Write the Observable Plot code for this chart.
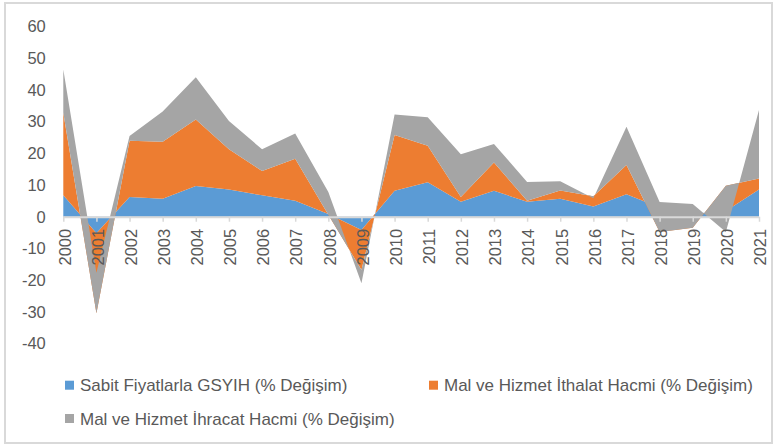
<!DOCTYPE html>
<html>
<head>
<meta charset="utf-8">
<script src="https://cdn.jsdelivr.net/npm/d3@7"></script>
<script src="https://cdn.jsdelivr.net/npm/@observablehq/plot@0.6"></script>
<style>
  html, body { margin: 0; padding: 0; background: #fff; }
  #wrap { position: relative; width: 774px; height: 446px; overflow: hidden; font-family: "Liberation Sans", Arial, sans-serif; }
  #frame { position: absolute; left: 4px; top: 2px; width: 769px; height: 442px; box-sizing: border-box; border: 2px solid #d9d9d9; pointer-events: none; }
  #chart { position: absolute; left: 0; top: 0; }
  #legend { position: absolute; left: 0; top: 360px; }
</style>
</head>
<body>
<div id="wrap">
  <div id="chart"></div>
  <div id="legend"></div>
  <div id="frame"></div>
</div>
<script>
// Data (% change)
const years = [2000, 2001, 2002, 2003, 2004, 2005, 2006, 2007, 2008, 2009, 2010,
               2011, 2012, 2013, 2014, 2015, 2016, 2017, 2018, 2019, 2020, 2021];
const gdp     = [6.8, -5.2, 6.2, 5.7, 9.7, 8.6, 6.75, 5.05, 0.85, -4.2, 8.2,
                 10.85, 4.75, 8.2, 4.75, 5.7, 3.2, 7.1, 2.9, 0.9, 1.8, 8.6];
const imports = [26.0, -25.3, 17.8, 18.0, 21.0, 12.7, 7.65, 13.25, -0.25, -12.6, 17.6,
                 11.55, 1.45, 8.9, 0.3, 2.6, 3.3, 9.2, -7.7, -4.4, 8.0, 3.5];
const exports = [13.7, 12.8, 1.5, 9.5, 13.3, 8.9, 6.9, 8.0, 7.2, -4.2, 6.5,
                 9.0, 13.5, 5.9, 5.95, 2.9, -0.7, 12.1, 9.45, 7.5, -14.6, 21.6];
const seriesNames = ["Sabit Fiyatlarla GSYIH (% Değişim)",
                     "Mal ve Hizmet İthalat Hacmi (% Değişim)",
                     "Mal ve Hizmet İhracat Hacmi (% Değişim)"];
const colors = ["#5B9BD5", "#ED7D31", "#A5A5A5"];
const yTicks = [-40, -30, -20, -10, 0, 10, 20, 30, 40, 50, 60];

// Excel-style cumulative stacking (each series from previous cumulative to its own)
const rows = years.map((year, i) => {
  const b1 = gdp[i], b2 = b1 + imports[i], b3 = b2 + exports[i];
  return {year, b0: 0, b1, b2, b3};
});

const font = "'Liberation Sans', Arial, sans-serif";
const textColor = "#595959";

const chart = Plot.plot({
  width: 774,
  height: 360,
  marginLeft: 63.3,
  marginRight: 15,
  marginTop: 26.7,
  marginBottom: 16.6,
  style: {background: "transparent", fontFamily: font, color: textColor, overflow: "visible"},
  x: {domain: [2000, 2021], axis: null},
  y: {domain: [-40, 60], axis: null},
  marks: [
    Plot.areaY(rows, {x: "year", y1: "b0", y2: "b1", fill: colors[0]}),
    Plot.areaY(rows, {x: "year", y1: "b1", y2: "b2", fill: colors[1]}),
    Plot.areaY(rows, {x: "year", y1: "b2", y2: "b3", fill: colors[2]}),
    Plot.ruleY([0], {stroke: "#d9d9d9", strokeWidth: 2}),
    Plot.ruleX(years, {x: d => d, y1: 0, y2: 0, insetBottom: -5, stroke: "#d9d9d9", strokeWidth: 1.5}),
    Plot.text(years, {
      x: d => d, y: 0, text: d => String(d),
      rotate: -90, textAnchor: "end", lineAnchor: "middle",
      dx: 1.5, dy: 11.6, fontSize: 16.5, fill: textColor
    }),
    Plot.axisY({ticks: yTicks, tickSize: 0, tickPadding: 18, fontSize: 16.5, fill: textColor, tickFormat: d => String(d)})
  ]
});
document.getElementById("chart").appendChild(chart);

// Legend below the chart
const legendItems = [
  {name: seriesNames[0], color: colors[0], x: 65, y: 20.7},
  {name: seriesNames[1], color: colors[1], x: 429, y: 20.7},
  {name: seriesNames[2], color: colors[2], x: 65, y: 54}
];
const lsvg = d3.select("#legend").append("svg")
  .attr("width", 774).attr("height", 86)
  .style("font-family", font);
const g = lsvg.selectAll("g").data(legendItems).join("g");
g.append("rect")
  .attr("x", d => d.x).attr("y", d => d.y)
  .attr("width", 9).attr("height", 9)
  .attr("fill", d => d.color);
g.append("text")
  .attr("x", d => d.x + 15).attr("y", d => d.y + 10.5)
  .attr("font-size", 17).attr("fill", textColor)
  .text(d => d.name);
</script>
</body>
</html>
